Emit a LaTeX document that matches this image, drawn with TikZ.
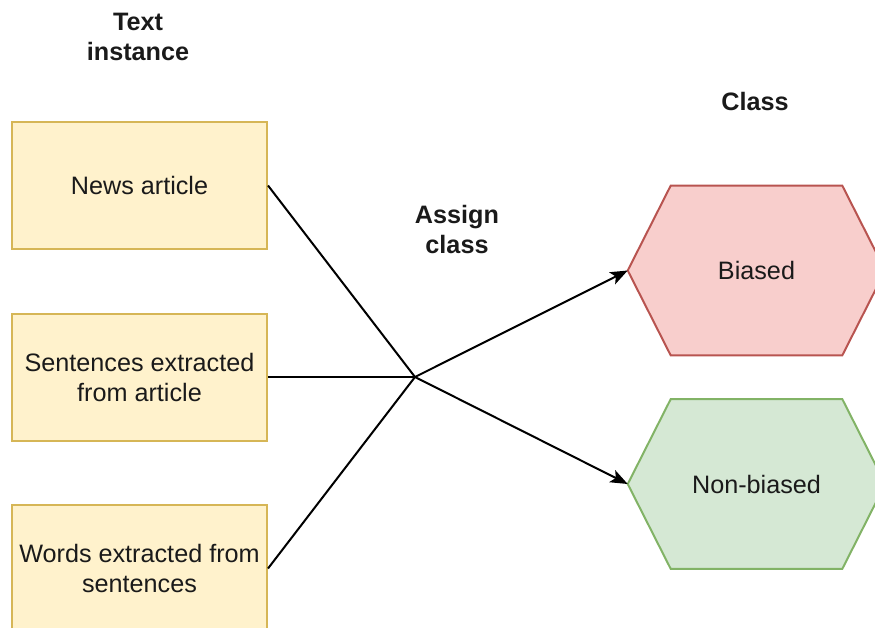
\documentclass[tikz,border=0pt]{standalone}
\usepackage{fontspec}
\setmainfont{Liberation Sans}
\usetikzlibrary{arrows.meta}
\definecolor{yfill}{HTML}{FFF2CC}
\definecolor{ydraw}{HTML}{D6B656}
\definecolor{rfill}{HTML}{F8CECC}
\definecolor{rdraw}{HTML}{B85450}
\definecolor{gfill}{HTML}{D5E8D4}
\definecolor{gdraw}{HTML}{82B366}
\definecolor{txt}{HTML}{1A1A1A}
\tikzset{
  every node/.style={font=\fontsize{18.9pt}{22.5pt}\selectfont, text=txt},
  instbox/.style={draw=ydraw, fill=yfill, line width=1.5pt, minimum width=191.25pt, minimum height=95.25pt, align=center, inner sep=0pt},
  hexnode/.style={minimum width=192.75pt, minimum height=127pt, inner sep=0pt, align=center},
  title/.style={font=\fontsize{18.9pt}{22.5pt}\selectfont\bfseries, align=center},
  conn/.style={line width=1.5pt, black},
  arr/.style={conn, -{Stealth[length=13pt, width=10pt, inset=3pt]}}
}
\begin{document}
\begin{tikzpicture}[x=0.75pt,y=-0.75pt]
\useasboundingbox (0,0) rectangle (875,628);
% titles
\node[title] (t1) at (138,37) {Text\\instance};
\node[title] (t2) at (755,101) {Class};
\node[title] (t3) at (457,229) {Assign\\class};
% boxes
\node[instbox] (b1) at (139.5,185.5) {News article};
\node[instbox] (b2) at (139.5,377) {Sentences extracted\\from article};
\node[instbox] (b3) at (139.5,568.5) {Words extracted from\\sentences};
% hexagons
\node[hexnode] (bi) at (756.5,270.5) {};
\node[hexnode] (nb) at (756.5,484) {};
\filldraw[fill=rfill, draw=rdraw, line width=1.5pt]
  (bi.west) -- ([xshift=32.25pt]bi.north west) -- ([xshift=-32.25pt]bi.north east)
  -- (bi.east) -- ([xshift=-32.25pt]bi.south east) -- ([xshift=32.25pt]bi.south west) -- cycle;
\filldraw[fill=gfill, draw=gdraw, line width=1.5pt]
  (nb.west) -- ([xshift=32.25pt]nb.north west) -- ([xshift=-32.25pt]nb.north east)
  -- (nb.east) -- ([xshift=-32.25pt]nb.south east) -- ([xshift=32.25pt]nb.south west) -- cycle;
\node (bil) at (bi.center) {Biased};
\node (nbl) at (nb.center) {Non-biased};
% connectors
\coordinate (x) at (415,377);
\draw[arr] (b1.east) -- (x) -- (nb.west);
\draw[arr] (b3.east) -- (x) -- (bi.west);
\draw[conn] (b2.east) -- (x);
\end{tikzpicture}
\end{document}
